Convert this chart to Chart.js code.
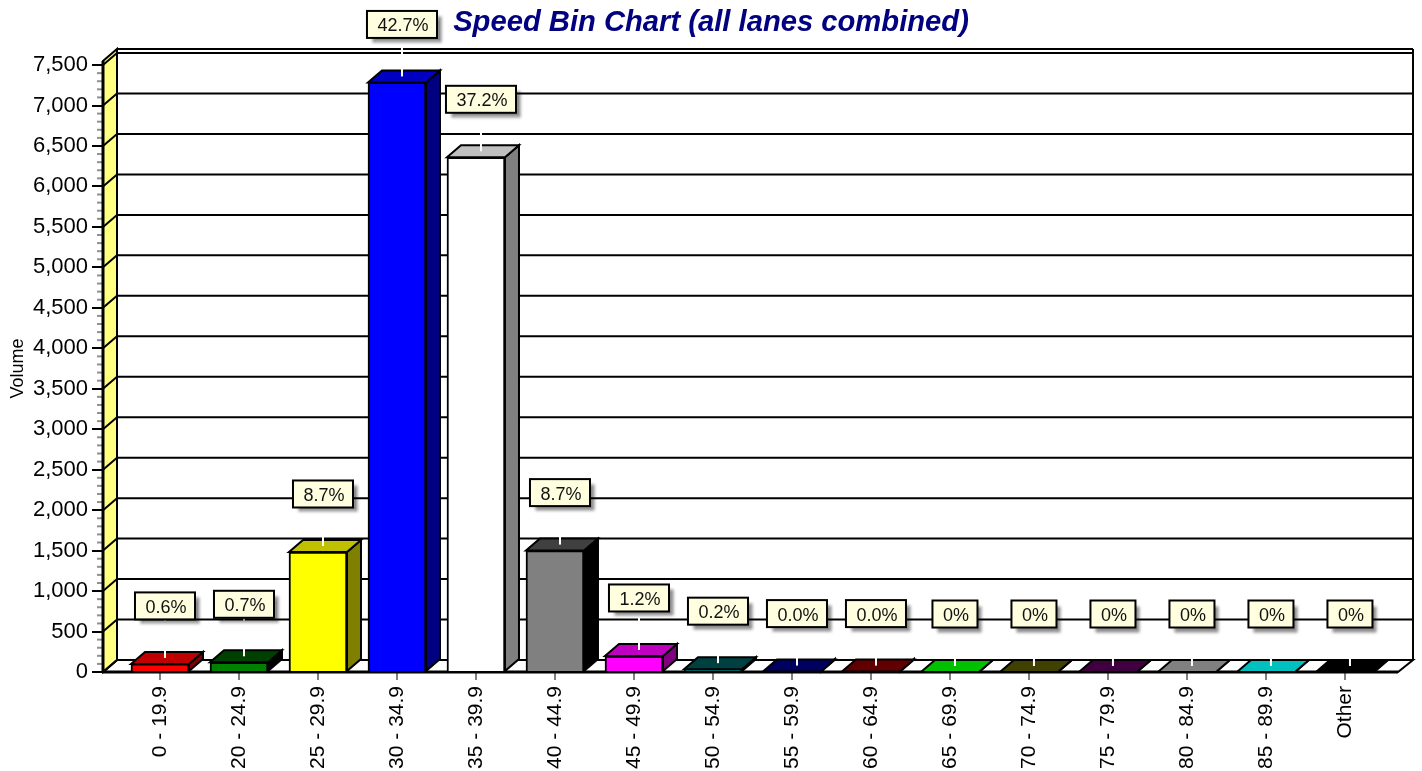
<!DOCTYPE html>
<html>
<head>
<meta charset="utf-8">
<title>Speed Bin Chart</title>
<script src="https://cdn.jsdelivr.net/npm/chart.js@4"></script>
<style>
    body { margin: 0; background: #fff; }
    canvas { display: block; }
</style>
</head>
<body>
<canvas id="speedChart" width="1422" height="771"></canvas>
<script>
const speedBins = ['0 - 19.9', '20 - 24.9', '25 - 29.9', '30 - 34.9', '35 - 39.9', '40 - 44.9', '45 - 49.9', '50 - 54.9',
    '55 - 59.9', '60 - 64.9', '65 - 69.9', '70 - 74.9', '75 - 79.9', '80 - 84.9', '85 - 89.9', 'Other'];
const volumes = [100, 120, 1483, 7285, 6360, 1500, 198, 35, 5, 5, 0, 0, 0, 0, 0, 0];
const percentLabels = ['0.6%', '0.7%', '8.7%', '42.7%', '37.2%', '8.7%', '1.2%', '0.2%', '0.0%', '0.0%', '0%', '0%', '0%', '0%', '0%', '0%'];

const frontColors = ['#ff0000', '#008000', '#ffff00', '#0000ff', '#ffffff', '#808080', '#ff00ff', '#008080',
    '#000080', '#800000', '#00ff00', '#808000', '#800080', '#c0c0c0', '#00ffff', '#000000'];
const topColors = ['#c00000', '#004000', '#c0c000', '#0000c0', '#c0c0c0', '#404040', '#c000c0', '#004040',
    '#000060', '#600000', '#00c000', '#404000', '#400040', '#808080', '#00c0c0', '#000000'];
const sideColors = ['#800000', '#000000', '#808000', '#000080', '#808080', '#000000', '#800080', '#000000',
    '#000000', '#000000', '#008000', '#000000', '#000000', '#606060', '#008080', '#000000'];

// depth of the fake 3D box, in pixels
const DEPTH_X = 14;
const DEPTH_Y = 12;

const polygon = (ctx, points, fill, stroke, width) => {
    ctx.beginPath();
    points.forEach((p, i) => i ? ctx.lineTo(p[0], p[1]) : ctx.moveTo(p[0], p[1]));
    ctx.closePath();
    ctx.fillStyle = fill;
    ctx.fill();
    if (stroke) {
        ctx.strokeStyle = stroke;
        ctx.lineWidth = width;
        ctx.stroke();
    }
};

const line = (ctx, x1, y1, x2, y2, color, width) => {
    ctx.beginPath();
    ctx.moveTo(x1, y1);
    ctx.lineTo(x2, y2);
    ctx.strokeStyle = color;
    ctx.lineWidth = width;
    ctx.stroke();
};

//################# Back wall, side wall and floor #################
const roomPlugin = {
    id: 'room',
    beforeDatasetsDraw(chart) {
        const { ctx, chartArea: area, scales: { y } } = chart;
        const left = area.left, right = area.right, bottom = area.bottom;
        ctx.save();

        // floor
        polygon(ctx, [[left, bottom], [right, bottom], [right + DEPTH_X + 1, bottom - DEPTH_Y], [left + DEPTH_X, bottom - DEPTH_Y]], '#ffffff', '#000000', 2);

        // side wall
        polygon(ctx, [[left, bottom], [left, area.top - 4], [left + DEPTH_X, area.top - 16], [left + DEPTH_X, bottom - DEPTH_Y]], '#ffff80', '#000000', 2);

        // gridlines
        y.ticks.forEach(tick => {
            const py = y.getPixelForValue(tick.value);
            line(ctx, left, py, left + DEPTH_X, py - DEPTH_Y, '#000000', 2);
            if (tick.value > 0) {
                line(ctx, left + DEPTH_X, py - DEPTH_Y, right + DEPTH_X + 1, py - DEPTH_Y, '#000000', 2);
            }
        });

        // second line above the top gridline and the right edge
        line(ctx, left + DEPTH_X, area.top - 16, right + DEPTH_X + 1, area.top - 16, '#000000', 2);
        line(ctx, right + DEPTH_X + 1, area.top - 16, right + DEPTH_X + 1, bottom - DEPTH_Y, '#000000', 2);

        // minor ticks
        for (let v = 100; v < 7500; v += 100) {
            if (v % 500) {
                const py = y.getPixelForValue(v);
                line(ctx, left - 6, py, left, py, '#909090', 2);
            }
        }

        // axis edges
        line(ctx, left, area.top - 4, left, bottom, '#000000', 3);
        line(ctx, left, bottom, right, bottom, '#000000', 3);
        ctx.restore();
    },
    afterDatasetsDraw(chart) {
        const { ctx } = chart;
        const bars = chart.getDatasetMeta(0).data;
        ctx.save();

        // tops and sides of the bars
        bars.forEach((bar, i) => {
            const half = bar.width / 2;
            const x0 = bar.x - half, x1 = bar.x + half, top = bar.y, base = bar.base;
            polygon(ctx, [[x1, top], [x1, base], [x1 + DEPTH_X, base - DEPTH_Y], [x1 + DEPTH_X, top - DEPTH_Y]], sideColors[i], '#000000', 2);
            polygon(ctx, [[x0, top], [x1, top], [x1 + DEPTH_X, top - DEPTH_Y], [x0 + DEPTH_X, top - DEPTH_Y]], topColors[i], '#000000', 2);
        });

        // percent callouts
        ctx.font = '18px "Liberation Sans", Arial, sans-serif';
        ctx.textAlign = 'center';
        ctx.textBaseline = 'middle';
        bars.forEach((bar, i) => {
            const cx = bar.x + 5;
            const cy = bar.y - DEPTH_Y - 46;
            const w = ctx.measureText(percentLabels[i]).width + 19;
            const h = 27;

            line(ctx, cx, cy + h / 2, cx, bar.y - DEPTH_Y / 2, '#ffffff', 2);

            ctx.save();
            ctx.shadowColor = 'rgba(0, 0, 0, 0.45)';
            ctx.shadowBlur = 3;
            ctx.shadowOffsetX = 5;
            ctx.shadowOffsetY = 5;
            ctx.fillStyle = '#ffffe0';
            ctx.fillRect(cx - w / 2, cy - h / 2, w, h);
            ctx.restore();

            ctx.strokeStyle = '#000000';
            ctx.lineWidth = 2;
            ctx.strokeRect(cx - w / 2, cy - h / 2, w, h);
            ctx.fillStyle = '#111111';
            ctx.fillText(percentLabels[i], cx + 1, cy + 2);
        });
        ctx.restore();
    },
};

//################# Create the chart #################
const speedChart = new Chart(document.getElementById('speedChart'), {
    type: 'bar',
    data: {
        datasets: [
            {
                data: volumes.map((v, i) => ({ x: i, y: v })),
                backgroundColor: frontColors,
                borderColor: '#000000',
                borderWidth: 2,
                barThickness: 58,
            },
        ],
    },
    plugins: [roomPlugin],
    options: {
        responsive: false,
        animation: false,
        plugins: {
            legend: { display: false },
            tooltip: { enabled: false },
            title: {
                display: true,
                text: 'Speed Bin Chart (all lanes combined)',
                color: '#000080',
                font: { family: '"Liberation Sans", Arial, sans-serif', size: 29.2, style: 'italic', weight: 'bold' },
                padding: { top: 5, bottom: 25 },
            },
        },
        scales: {
            x: {
                type: 'linear',
                offset: false,
                min: -0.7215,
                max: 15.6715,
                afterBuildTicks: axis => {
                    axis.ticks = speedBins.map((name, i) => ({ value: i }));
                },
                afterFit: axis => {
                    axis.height = 99;
                },
                grid: { offset: false, drawOnChartArea: false, drawTicks: true, tickLength: 8, color: '#808080', lineWidth: 2 },
                border: { display: false },
                ticks: {
                    autoSkip: false,
                    minRotation: 90,
                    maxRotation: 90,
                    padding: 6,
                    color: '#000000',
                    font: { family: '"Liberation Sans", Arial, sans-serif', size: 21 },
                    callback: value => speedBins[value],
                },
            },
            y: {
                min: 0,
                max: 7500,
                afterFit: axis => {
                    axis.width = 103;
                },
                grid: { drawOnChartArea: false, drawTicks: true, tickLength: 11, color: '#000000', lineWidth: 2 },
                border: { display: false },
                title: {
                    display: true,
                    text: 'Volume',
                    color: '#000000',
                    font: { family: '"Liberation Sans", Arial, sans-serif', size: 18 },
                    padding: { top: 7, bottom: 0 },
                },
                ticks: {
                    stepSize: 500,
                    padding: 4,
                    color: '#000000',
                    font: { family: '"Liberation Sans", Arial, sans-serif', size: 22 },
                    callback: value => value.toLocaleString('en-US'),
                },
            },
            // empty axis, only keeps the margin on the right without moving the title
            rightMargin: {
                position: 'right',
                grid: { display: false },
                border: { display: false },
                ticks: { display: false },
                afterFit: axis => {
                    axis.width = 24;
                },
            },
        },
    },
});
</script>
</body>
</html>
